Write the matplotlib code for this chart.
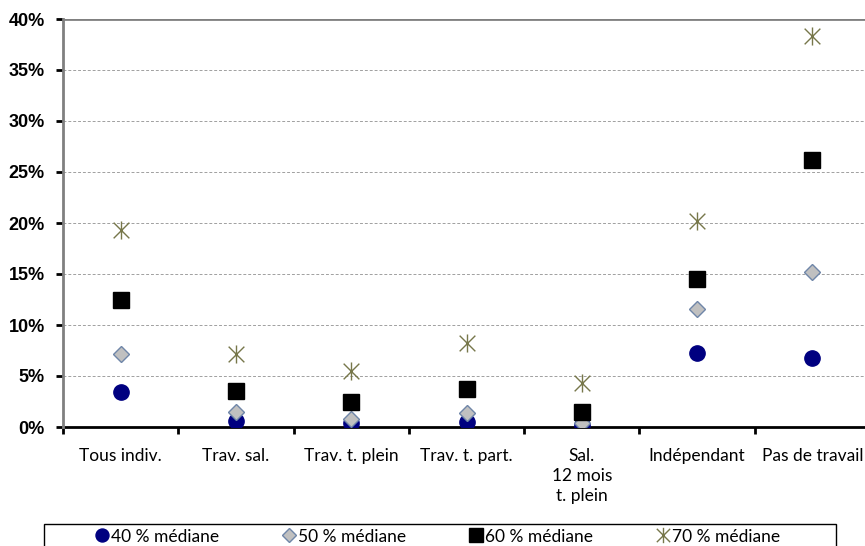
import matplotlib
matplotlib.use("Agg")
import matplotlib.pyplot as plt
from matplotlib.path import Path
from matplotlib.patches import Rectangle
from matplotlib.ticker import FuncFormatter

categories = ["Tous indiv.", "Trav. sal.", "Trav. t. plein", "Trav. t. part.",
              "Sal.\n12 mois\nt. plein", "Indépendant", "Pas de travail"]
med40 = [3.4, 0.6, 0.4, 0.5, 0.2, 7.25, 6.8]
med50 = [7.2, 1.5, 0.8, 1.4, 0.4, 11.6, 15.2]
med60 = [12.5, 3.5, 2.5, 3.7, 1.5, 14.5, 26.2]
med70 = [19.3, 7.2, 5.5, 8.2, 4.3, 20.2, 38.3]
series_labels = ["40 % médiane", "50 % médiane", "60 % médiane", "70 % médiane"]

# asterisk: an X plus a vertical bar
star = Path([(-1, -1), (1, 1), (-1, 1), (1, -1), (0, -1.15), (0, 1.15)],
            [Path.MOVETO, Path.LINETO, Path.MOVETO, Path.LINETO, Path.MOVETO, Path.LINETO])

fig = plt.figure(figsize=(8.65, 5.46), dpi=100)
ax = fig.add_axes([63 / 865, 119 / 546, 807 / 865, 408 / 546])

x = list(range(len(categories)))
ax.plot(x, med40, ls="none", marker="o", ms=11, color="#000080", mec="#000080",
        label=series_labels[0], zorder=3)
ax.plot(x, med50, ls="none", marker="D", ms=8, color="#c0c0c0", mec="#6f86a8",
        mew=1, label=series_labels[1], zorder=4)
ax.plot(x, med60, ls="none", marker="s", ms=11.5, color="black",
        label=series_labels[2], zorder=5)
ax.plot(x, med70, ls="none", marker=star, ms=13, color="#77774a", mew=1,
        label=series_labels[3], zorder=6)

ax.set_xlim(-0.5, len(categories) - 0.5)
ax.set_ylim(0, 40)
ax.set_yticks(range(0, 41, 5))
ax.yaxis.set_major_formatter(FuncFormatter(lambda v, p: f"{v:.0f}%"))
for v in range(5, 40, 5):
    ax.axhline(v, color="#a0a0a0", lw=0.7, ls=(0, (3, 2)), zorder=1)
ax.axhline(40, color="#808080", lw=2, zorder=1)

ax.set_xticks([i + 0.5 for i in x[:-1]] + [-0.5])
ax.set_xticklabels([])
ax.set_xticks(x, minor=True)
ax.set_xticklabels(categories, minor=True, fontsize=12.5, family="Lato",
                   va="top", linespacing=1.3)
ax.tick_params(axis="x", which="minor", length=0, pad=15)
ax.tick_params(axis="x", which="major", length=5, width=2, color="black")
ax.tick_params(axis="y", length=5, width=2, pad=8, labelsize=13)
for lab in ax.get_yticklabels():
    lab.set_fontweight("bold")
    lab.set_family("Liberation Sans")

for side in ["top", "right"]:
    ax.spines[side].set_visible(False)
ax.spines["left"].set_color("#808080")
ax.spines["left"].set_linewidth(2)
ax.spines["bottom"].set_color("black")
ax.spines["bottom"].set_linewidth(2)
ax.spines["bottom"].set_zorder(2)

# legend box runs past the bottom edge
fig.patches.append(Rectangle((44 / 865, -0.05), 792 / 865, 0.05 + 22 / 546,
                             transform=fig.transFigure, fill=False,
                             edgecolor="black", lw=1))
leg = fig.legend(loc="center", bbox_to_anchor=(438 / 865, 1 - 536.5 / 546),
                 ncol=4, frameon=False, prop={"family": "Lato", "size": 12.5},
                 markerscale=0.85, handlelength=0.7, handletextpad=0.15,
                 columnspacing=3.7, borderpad=0)

fig.savefig("out.png", dpi=100)
